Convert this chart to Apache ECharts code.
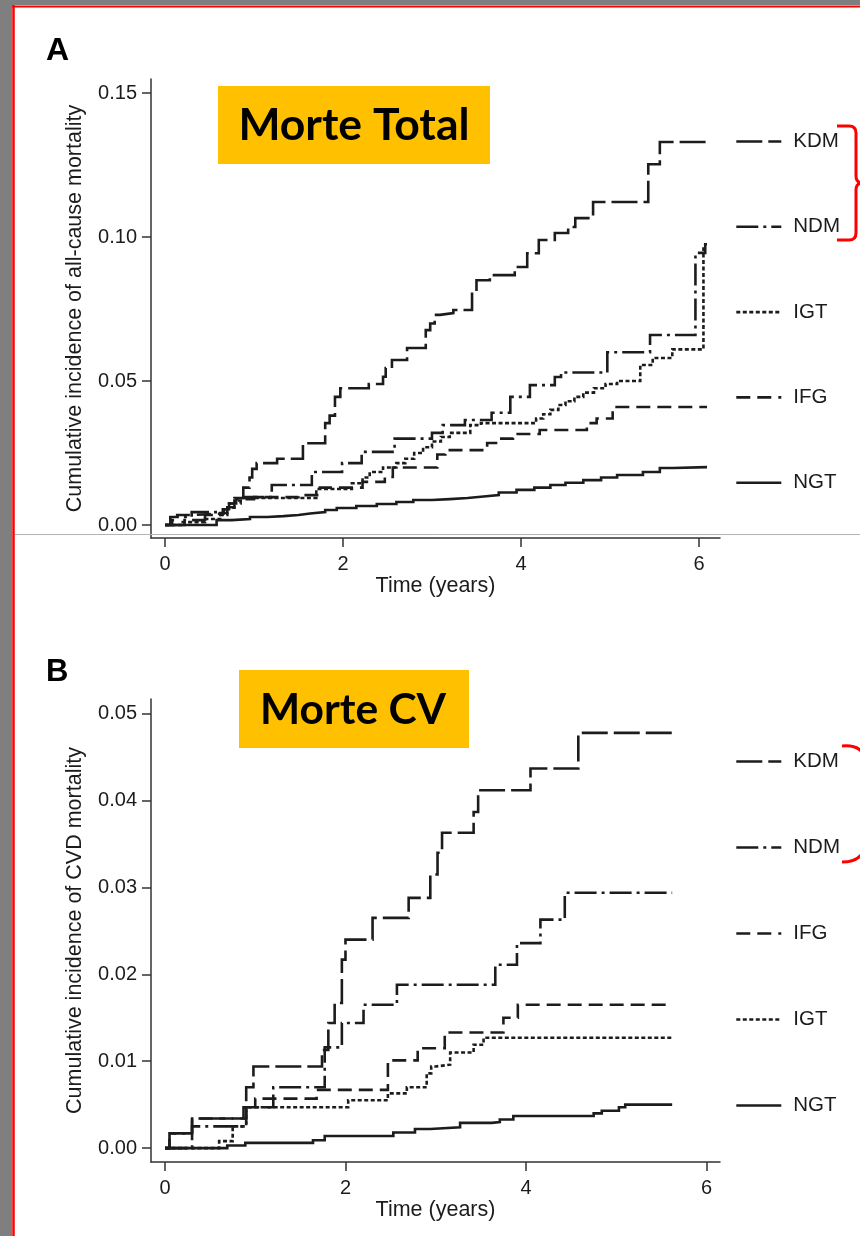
<!DOCTYPE html>
<html>
<head>
<meta charset="utf-8">
<script src="https://cdn.jsdelivr.net/npm/echarts@6/dist/echarts.min.js"></script>
<style>
  html, body { margin: 0; padding: 0; background: #fff; }
  #chart { width: 860px; height: 1236px; }
</style>
</head>
<body>
<div id="chart"></div>
<script>
// ---- Tick labels ----
const xTicks = [0, 2, 4, 6];
const yTicksA = [0, 0.05, 0.10, 0.15];
const yTicksB = [0, 0.01, 0.02, 0.03, 0.04, 0.05];

// ---- Group names (legend order per panel) ----
const groupsA = ['KDM', 'NDM', 'IGT', 'IFG', 'NGT'];
const groupsB = ['KDM', 'NDM', 'IFG', 'IGT', 'NGT'];

// ---- Panel A: cumulative incidence of all-cause mortality, [years, incidence] ----
const kdmA = [[0,0],[0.22,0.0017],[0.45,0.0035],[0.62,0.0042],[0.70,0.0062],[0.78,0.0094],[0.88,0.013],[0.95,0.0165],[0.98,0.0195],[1.03,0.0215],[1.26,0.023],[1.55,0.0284],[1.80,0.0354],[1.85,0.038],[1.91,0.0445],[1.97,0.0475],[2.29,0.049],[2.45,0.0515],[2.48,0.0545],[2.55,0.0573],[2.72,0.0615],[2.93,0.0677],[2.98,0.070],[3.03,0.073],[3.09,0.0736],[3.24,0.0747],[3.45,0.081],[3.50,0.085],[3.65,0.0868],[3.93,0.0896],[4.07,0.0944],[4.20,0.099],[4.38,0.1014],[4.53,0.1035],[4.61,0.1066],[4.81,0.1122],[5.43,0.1253],[5.56,0.133],[6.10,0.133]];
const ndmA = [[0,0],[0.06,0.0028],[0.30,0.0045],[0.65,0.0055],[0.72,0.0075],[0.85,0.0097],[1.20,0.0139],[1.65,0.0184],[1.99,0.0215],[2.21,0.0254],[2.58,0.030],[3.00,0.032],[3.12,0.0347],[3.37,0.0365],[3.67,0.039],[3.88,0.0445],[4.10,0.0486],[4.38,0.0514],[4.45,0.053],[4.97,0.060],[5.45,0.066],[5.96,0.0945],[6.07,0.0975],[6.09,0.0975]];
const igtA = [[0,0],[0.20,0.001],[0.45,0.0021],[0.62,0.0035],[0.70,0.006],[0.78,0.0085],[0.88,0.0094],[1.70,0.0125],[2.10,0.0145],[2.22,0.0165],[2.30,0.0184],[2.45,0.020],[2.60,0.0215],[2.70,0.023],[2.80,0.025],[2.90,0.027],[3.00,0.029],[3.10,0.0306],[3.20,0.032],[3.43,0.0347],[3.55,0.0354],[4.17,0.037],[4.25,0.0385],[4.33,0.040],[4.42,0.0417],[4.50,0.043],[4.60,0.0445],[4.70,0.046],[4.82,0.0475],[4.95,0.049],[5.08,0.050],[5.34,0.0556],[5.48,0.058],[5.70,0.061],[6.05,0.096],[6.09,0.096]];
const ifgA = [[0,0],[0.08,0.0017],[0.12,0.0035],[0.30,0.004],[0.66,0.0055],[0.72,0.0075],[0.80,0.0090],[1.00,0.0097],[1.50,0.0104],[1.74,0.013],[2.22,0.015],[2.47,0.0167],[2.56,0.020],[3.06,0.0245],[3.15,0.026],[3.62,0.0285],[3.76,0.030],[3.91,0.0316],[4.21,0.033],[4.74,0.0354],[4.85,0.037],[5.03,0.041],[6.09,0.041]];
const ngtA = [[0,0],[0.58,0.0017],[0.75,0.0021],[0.955,0.0028],[1.15,0.0031],[1.33,0.0035],[1.50,0.004],[1.63,0.0045],[1.80,0.0052],[1.93,0.0059],[2.15,0.0066],[2.38,0.0073],[2.60,0.008],[2.79,0.0087],[3.00,0.009],[3.20,0.0094],[3.40,0.0099],[3.58,0.0104],[3.75,0.0113],[3.95,0.0122],[4.15,0.013],[4.33,0.0139],[4.50,0.0147],[4.70,0.0156],[4.90,0.0165],[5.08,0.0174],[5.37,0.0184],[5.56,0.0198],[5.71,0.0201],[6.09,0.0201]];

// ---- Panel B: cumulative incidence of CVD mortality, [years, incidence] ----
const kdmB = [[0,0],[0.05,0.0017],[0.30,0.0034],[0.87,0.0047],[0.90,0.007],[0.98,0.0094],[1.74,0.0113],[1.81,0.0144],[1.88,0.0167],[1.96,0.0217],[2.00,0.024],[2.30,0.0265],[2.70,0.0288],[2.94,0.0315],[3.02,0.034],[3.07,0.0363],[3.42,0.0387],[3.47,0.0412],[4.05,0.0437],[4.58,0.0478],[5.62,0.0478]];
const ndmB = [[0,0],[0.30,0.0025],[0.90,0.0047],[1.20,0.007],[1.77,0.0116],[1.96,0.0144],[2.20,0.0165],[2.57,0.0188],[3.66,0.0211],[3.90,0.0236],[4.16,0.0263],[4.43,0.0294],[5.62,0.0294]];
const ifgB = [[0,0],[0.05,0.0017],[0.30,0.0034],[0.90,0.0047],[1.00,0.0057],[1.68,0.0067],[2.47,0.0101],[2.80,0.0115],[3.10,0.0133],[3.75,0.015],[3.91,0.0165],[5.62,0.0165]];
const igtB = [[0,0],[0.60,0.0008],[0.75,0.0025],[0.90,0.0047],[2.03,0.0055],[2.47,0.0063],[2.68,0.007],[2.90,0.0086],[2.95,0.0094],[3.00,0.0096],[3.16,0.011],[3.42,0.0119],[3.53,0.0127],[5.62,0.0127]];
const ngtB = [[0,0],[0.69,0.0003],[0.89,0.0006],[1.64,0.0009],[1.77,0.0014],[2.53,0.0018],[2.77,0.0022],[2.94,0.0024],[3.27,0.0029],[3.62,0.003],[3.71,0.0033],[3.86,0.0037],[4.75,0.004],[4.84,0.0043],[5.03,0.0047],[5.10,0.005],[5.62,0.005]];

// ---- Styling ----
const FONT = '"Liberation Sans", Arial, sans-serif';
const INK = '#1c1c1c';
const AXIS = '#333';
const RED = '#ff0000';
const LINE_W = 2.6;
const dashes = {
  KDM: [26, 6],
  NDM: [22, 5, 3, 5],
  IGT: [4, 2.5],
  IFG: [14, 7],
  NGT: 'solid'
};

function stepSeries(name, data, idx) {
  return {
    type: 'line', name: name, data: data, step: 'end',
    xAxisIndex: idx, yAxisIndex: idx,
    symbol: 'none', silent: true, animation: false,
    lineStyle: { color: INK, width: LINE_W, type: dashes[name], cap: 'butt', join: 'miter' },
    itemStyle: { color: INK },
    emphasis: { disabled: true }
  };
}

function xAxisFor(idx, min, max) {
  return {
    gridIndex: idx, type: 'value', min: min, max: max,
    axisLine: { show: true, onZero: false, lineStyle: { color: AXIS, width: 1.5 } },
    axisTick: { show: true, customValues: xTicks, length: 9, lineStyle: { color: AXIS, width: 1.5 } },
    axisLabel: { customValues: xTicks, margin: 16, fontSize: 20, color: INK, fontFamily: FONT },
    splitLine: { show: false },
    name: 'Time (years)', nameLocation: 'middle', nameGap: 37,
    nameTextStyle: { fontSize: 21.5, color: INK, fontFamily: FONT }
  };
}

function yAxisFor(idx, min, max, ticks, title) {
  return {
    gridIndex: idx, type: 'value', min: min, max: max,
    axisLine: { show: true, onZero: false, lineStyle: { color: AXIS, width: 1.5 } },
    axisTick: { show: true, customValues: ticks, length: 9, lineStyle: { color: AXIS, width: 1.5 } },
    axisLabel: { customValues: ticks, margin: 14, fontSize: 20, color: INK, fontFamily: FONT,
                 formatter: v => v.toFixed(2) },
    splitLine: { show: false },
    name: title, nameLocation: 'middle', nameGap: 65,
    nameTextStyle: { fontSize: 21.5, color: INK, fontFamily: FONT }
  };
}

function legendFor(top, gap, names) {
  return {
    orient: 'vertical', left: 735, top: top, padding: 0,
    itemWidth: 45, itemHeight: 20, itemGap: gap,
    selectedMode: false, data: names,
    itemStyle: { opacity: 0, borderWidth: 0 },
    lineStyle: { width: LINE_W, color: INK, cap: 'butt' },
    textStyle: { fontSize: 20.5, color: INK, fontFamily: FONT, lineHeight: 20, padding: [0, 0, 0, 7] }
  };
}

// bracket pieces
function seg(x1, y1, x2, y2) {
  return { type: 'line', silent: true, z: 50, shape: { x1, y1, x2, y2 },
           style: { stroke: RED, lineWidth: 3 } };
}
function curve(x1, y1, cpx1, cpy1, x2, y2) {
  return { type: 'bezierCurve', silent: true, z: 50, shape: { x1, y1, cpx1, cpy1, x2, y2 },
           style: { stroke: RED, lineWidth: 3, fill: null } };
}

const chart = echarts.init(document.getElementById('chart'), null, { renderer: 'canvas' });

chart.setOption({
  backgroundColor: '#ffffff',
  animation: false,
  grid: [
    { left: 151, top: 79, width: 569, height: 459 },
    { left: 151, top: 699, width: 569, height: 463 }
  ],
  xAxis: [ xAxisFor(0, -0.157, 6.236), xAxisFor(1, -0.155, 6.15) ],
  yAxis: [
    yAxisFor(0, -0.0045, 0.1549, yTicksA, 'Cumulative incidence of all-cause mortality'),
    yAxisFor(1, -0.0016, 0.0517, yTicksB, 'Cumulative incidence of CVD mortality')
  ],
  legend: [ legendFor(131, 64.3, groupsA), legendFor(751, 65, groupsB) ],
  series: [
    stepSeries('KDM', kdmA, 0),
    stepSeries('NDM', ndmA, 0),
    stepSeries('IGT', igtA, 0),
    stepSeries('IFG', ifgA, 0),
    stepSeries('NGT', ngtA, 0),
    stepSeries('KDM', kdmB, 1),
    stepSeries('NDM', ndmB, 1),
    stepSeries('IFG', ifgB, 1),
    stepSeries('IGT', igtB, 1),
    stepSeries('NGT', ngtB, 1)
  ],
  graphic: [
    // page frame: grey margin with red edge
    { type: 'rect', silent: true, shape: { x: 0, y: 0, width: 860, height: 5 }, style: { fill: '#7f7f7f' } },
    { type: 'rect', silent: true, shape: { x: 0, y: 0, width: 12, height: 1236 }, style: { fill: '#7f7f7f' } },
    { type: 'line', silent: true, shape: { x1: 13.5, y1: 5, x2: 13.5, y2: 1236 }, style: { stroke: RED, lineWidth: 2.5 } },
    { type: 'line', silent: true, shape: { x1: 12, y1: 6.5, x2: 860, y2: 6.5 }, style: { stroke: RED, lineWidth: 2 } },
    // thin divider across the page
    { type: 'line', silent: true, z: 100, shape: { x1: 15, y1: 534.5, x2: 860, y2: 534.5 }, style: { stroke: '#b4b4b4', lineWidth: 1 } },
    // panel letters
    { type: 'text', silent: true, x: 46, y: 51, style: { text: 'A', font: 'bold 32px "Liberation Sans", Arial, sans-serif', fill: '#000', verticalAlign: 'middle' } },
    { type: 'text', silent: true, x: 46, y: 672, style: { text: 'B', font: 'bold 31px "Liberation Sans", Arial, sans-serif', fill: '#000', verticalAlign: 'middle' } },
    // highlighted titles
    { type: 'rect', silent: true, shape: { x: 218, y: 86, width: 272, height: 78 }, style: { fill: '#ffc000' } },
    { type: 'text', silent: true, x: 354, y: 126, style: { text: 'Morte Total', font: 'bold 44.5px Lato, "Open Sans", sans-serif', fill: '#000', align: 'center', verticalAlign: 'middle' } },
    { type: 'rect', silent: true, shape: { x: 239, y: 670, width: 230, height: 78 }, style: { fill: '#ffc000' } },
    { type: 'text', silent: true, x: 353, y: 710, style: { text: 'Morte CV', font: 'bold 42.5px Lato, "Open Sans", sans-serif', fill: '#000', align: 'center', verticalAlign: 'middle' } },
    // red bracket grouping KDM and NDM, panel A
    seg(837, 126, 849, 126),
    curve(849, 126, 856, 126, 856, 133),
    seg(856, 133, 856, 176),
    curve(856, 176, 856, 183, 863, 183),
    curve(863, 183, 856, 183, 856, 190),
    seg(856, 190, 856, 233),
    curve(856, 233, 856, 240, 849, 240),
    seg(849, 240, 837, 240),
    // red bracket, panel B
    curve(842, 746, 862, 744, 866, 760),
    seg(866, 760, 866, 845),
    curve(866, 845, 862, 862, 842, 862)
  ]
});
</script>
</body>
</html>
